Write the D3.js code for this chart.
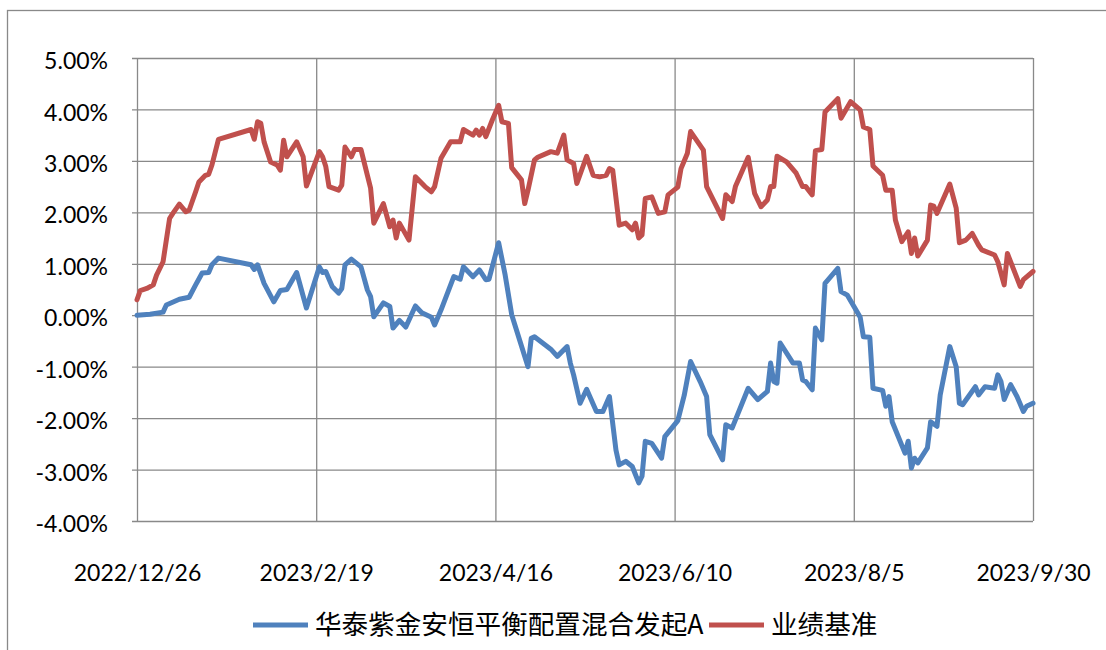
<!DOCTYPE html>
<html>
<head>
<meta charset="utf-8">
<script src="https://cdn.jsdelivr.net/npm/d3@7"></script>
<style>
	body { margin: 0; background: #fff; }
	.axis text { font-family: Lato, "Open Sans", sans-serif; font-size: 23px; fill: #000; }
	.axis .domain { display: none; }
	.axis line { stroke: #898989; stroke-width: 1.3; }
	.legend text { font-family: "Noto Sans CJK SC", sans-serif; font-size: 26.6px; fill: #000; }
</style>
</head>
<body>
<svg class="chart" width="1106" height="650"></svg>
<script>
// 华泰紫金安恒平衡配置混合发起A
var fundDates = ['2022/12/26','2022/12/30','2023/1/3','2023/1/4','2023/1/8','2023/1/11','2023/1/13','2023/1/15','2023/1/17','2023/1/18',
	'2023/1/20','2023/1/30','2023/1/31','2023/2/1','2023/2/3','2023/2/6','2023/2/8','2023/2/10','2023/2/13','2023/2/16',
	'2023/2/20','2023/2/21','2023/2/22','2023/2/24','2023/2/26','2023/2/27','2023/2/28','2023/3/2','2023/3/5','2023/3/7',
	'2023/3/8','2023/3/9','2023/3/12','2023/3/14','2023/3/15','2023/3/17','2023/3/19','2023/3/22','2023/3/24','2023/3/27',
	'2023/3/28','2023/3/30','2023/4/3','2023/4/5','2023/4/6','2023/4/9','2023/4/11','2023/4/13','2023/4/14','2023/4/17',
	'2023/4/19','2023/4/21','2023/4/26','2023/4/27','2023/4/28','2023/5/3','2023/5/5','2023/5/8','2023/5/9','2023/5/10',
	'2023/5/12','2023/5/14','2023/5/17','2023/5/19','2023/5/21','2023/5/23','2023/5/24','2023/5/26','2023/5/28','2023/5/30',
	'2023/5/31','2023/6/1','2023/6/3','2023/6/6','2023/6/7','2023/6/11','2023/6/13','2023/6/15','2023/6/18','2023/6/20',
	'2023/6/21','2023/6/25','2023/6/26','2023/6/28','2023/7/3','2023/7/6','2023/7/9','2023/7/10','2023/7/11','2023/7/12',
	'2023/7/13','2023/7/17','2023/7/19','2023/7/20','2023/7/21','2023/7/23','2023/7/24','2023/7/26','2023/7/27','2023/7/31',
	'2023/8/1','2023/8/3','2023/8/7','2023/8/8','2023/8/10','2023/8/11','2023/8/14','2023/8/15','2023/8/16','2023/8/17',
	'2023/8/21','2023/8/22','2023/8/23','2023/8/24','2023/8/25','2023/8/28','2023/8/29','2023/8/31','2023/9/1','2023/9/4',
	'2023/9/6','2023/9/7','2023/9/8','2023/9/12','2023/9/13','2023/9/15','2023/9/18','2023/9/19','2023/9/20','2023/9/21',
	'2023/9/23','2023/9/25','2023/9/27','2023/9/28','2023/9/30'];
var fundValues = [0.00, 0.02, 0.06, 0.20, 0.31, 0.35, 0.59, 0.82, 0.83, 0.98,
	1.11, 0.98, 0.89, 0.98, 0.62, 0.26, 0.48, 0.50, 0.83, 0.14,
	0.94, 0.83, 0.85, 0.56, 0.43, 0.52, 0.98, 1.09, 0.94, 0.49,
	0.36, -0.03, 0.24, 0.17, -0.25, -0.10, -0.23, 0.18, 0.05, -0.04,
	-0.19, 0.10, 0.75, 0.70, 0.94, 0.75, 0.88, 0.69, 0.70, 1.41,
	0.78, 0.01, -1.00, -0.45, -0.42, -0.66, -0.80, -0.61, -0.93, -1.16,
	-1.71, -1.44, -1.87, -1.87, -1.58, -2.62, -2.91, -2.84, -2.94, -3.26,
	-3.13, -2.45, -2.49, -2.78, -2.36, -2.05, -1.56, -0.90, -1.29, -1.58,
	-2.32, -2.81, -2.13, -2.19, -1.42, -1.64, -1.48, -0.93, -1.29, -1.32,
	-0.54, -0.93, -0.93, -1.26, -1.29, -1.45, -0.25, -0.48, 0.62, 0.91,
	0.46, 0.39, -0.04, -0.42, -0.43, -1.42, -1.46, -1.77, -1.58, -2.07,
	-2.68, -2.45, -2.97, -2.78, -2.87, -2.58, -2.07, -2.16, -1.55, -0.61,
	-1.00, -1.71, -1.74, -1.39, -1.55, -1.39, -1.42, -1.16, -1.29, -1.64,
	-1.35, -1.58, -1.87, -1.77, -1.71];

// 业绩基准
var benchDates = ['2022/12/26','2022/12/27','2022/12/29','2022/12/31','2023/1/1','2023/1/3','2023/1/5','2023/1/6','2023/1/8','2023/1/10',
	'2023/1/11','2023/1/13','2023/1/14','2023/1/16','2023/1/17','2023/1/18','2023/1/20','2023/1/30','2023/1/31','2023/2/1',
	'2023/2/2','2023/2/3','2023/2/5','2023/2/7','2023/2/8','2023/2/9','2023/2/10','2023/2/13','2023/2/15','2023/2/16',
	'2023/2/20','2023/2/21','2023/2/22','2023/2/23','2023/2/26','2023/2/27','2023/2/28','2023/3/2','2023/3/3','2023/3/5',
	'2023/3/7','2023/3/8','2023/3/9','2023/3/12','2023/3/14','2023/3/15','2023/3/16','2023/3/17','2023/3/20','2023/3/22',
	'2023/3/25','2023/3/27','2023/3/28','2023/3/30','2023/4/2','2023/4/5','2023/4/6','2023/4/9','2023/4/10','2023/4/11',
	'2023/4/12','2023/4/13','2023/4/15','2023/4/17','2023/4/18','2023/4/20','2023/4/21','2023/4/24','2023/4/25','2023/4/26',
	'2023/4/28','2023/4/29','2023/5/3','2023/5/5','2023/5/7','2023/5/8','2023/5/10','2023/5/11','2023/5/14','2023/5/16',
	'2023/5/18','2023/5/20','2023/5/21','2023/5/22','2023/5/24','2023/5/26','2023/5/28','2023/5/29','2023/5/30','2023/5/31',
	'2023/6/1','2023/6/3','2023/6/5','2023/6/7','2023/6/8','2023/6/11','2023/6/12','2023/6/14','2023/6/15','2023/6/19',
	'2023/6/20','2023/6/25','2023/6/26','2023/6/28','2023/6/29','2023/7/3','2023/7/5','2023/7/7','2023/7/9','2023/7/10',
	'2023/7/11','2023/7/12','2023/7/15','2023/7/18','2023/7/20','2023/7/21','2023/7/23','2023/7/24','2023/7/26','2023/7/27',
	'2023/7/31','2023/8/1','2023/8/4','2023/8/7','2023/8/8','2023/8/10','2023/8/11','2023/8/14','2023/8/15','2023/8/17',
	'2023/8/18','2023/8/20','2023/8/22','2023/8/23','2023/8/24','2023/8/25','2023/8/28','2023/8/29','2023/8/30','2023/8/31',
	'2023/9/4','2023/9/6','2023/9/7','2023/9/9','2023/9/11','2023/9/13','2023/9/14','2023/9/18','2023/9/19','2023/9/21',
	'2023/9/22','2023/9/24','2023/9/26','2023/9/27','2023/9/30'];
var benchValues = [0.30, 0.48, 0.52, 0.59, 0.78, 1.04, 1.88, 1.98, 2.16, 2.01,
	2.04, 2.40, 2.59, 2.72, 2.74, 2.92, 3.42, 3.61, 3.42, 3.76,
	3.73, 3.37, 2.98, 2.92, 2.82, 3.40, 3.08, 3.37, 3.08, 2.51,
	3.18, 3.08, 2.89, 2.50, 2.43, 2.53, 3.27, 3.08, 3.22, 3.22,
	2.72, 2.47, 1.79, 2.17, 1.72, 1.85, 1.50, 1.79, 1.46, 2.69,
	2.50, 2.40, 2.50, 3.05, 3.37, 3.37, 3.61, 3.50, 3.60, 3.50,
	3.63, 3.47, 3.79, 4.08, 3.76, 3.73, 2.87, 2.63, 2.17, 2.43,
	3.02, 3.07, 3.18, 3.15, 3.50, 3.02, 2.95, 2.56, 3.09, 2.72,
	2.69, 2.72, 2.85, 2.82, 1.75, 1.79, 1.66, 1.79, 1.50, 1.56,
	2.27, 2.30, 1.98, 2.01, 2.34, 2.49, 2.85, 3.15, 3.57, 3.21,
	2.50, 1.88, 2.34, 2.21, 2.50, 3.07, 2.37, 2.11, 2.24, 2.50,
	2.50, 3.09, 2.98, 2.76, 2.50, 2.50, 2.34, 3.20, 3.22, 3.95,
	4.21, 3.83, 4.15, 3.99, 3.66, 3.61, 2.90, 2.72, 2.43, 2.43,
	1.85, 1.43, 1.62, 1.20, 1.50, 1.15, 1.46, 2.14, 2.12, 1.98,
	2.55, 2.08, 1.41, 1.46, 1.59, 1.36, 1.27, 1.17, 1.04, 0.59,
	1.20, 0.88, 0.56, 0.69, 0.85];

var tickLabels = ['2022/12/26', '2023/2/19', '2023/4/16', '2023/6/10', '2023/8/5', '2023/9/30'];
var yTicks = [-4, -3, -2, -1, 0, 1, 2, 3, 4, 5];
var seriesNames = ['华泰紫金安恒平衡配置混合发起A', '业绩基准'];
var colors = ['#4f81bd', '#c0504d'];

var parseDate = d3.timeParse('%Y/%m/%d');
var margin = {top: 58, right: 73, bottom: 129, left: 137};
var w = 1106 - margin.left - margin.right,
    h = 650 - margin.top - margin.bottom;

var svg = d3.select('.chart');

// outer chart frame
svg.append('rect')
	.attr('x', 7.5).attr('y', 10.5)
	.attr('width', 1110).attr('height', 660)
	.attr('fill', 'none').attr('stroke', '#898989').attr('stroke-width', 1.3);

var g = svg.append('g')
	.attr('transform', 'translate(' + margin.left + ',' + margin.top + ')');

var tickDates = tickLabels.map(parseDate);
// labelled dates sit on equally spaced category gridlines
var x = d3.scaleTime()
	.domain(tickDates)
	.range(tickDates.map(function(d, i) { return i * w / (tickDates.length - 1) }));
var y = d3.scaleLinear().domain([-4, 5]).range([h, 0]);

g.append('g')
	.attr('class', 'axis')
	.attr('transform', 'translate(-5,0)')
	.call(d3.axisLeft(y)
		.tickValues(yTicks)
		.tickSize(-(w + 5))
		.tickPadding(24)
		.tickFormat(function(d) { return d.toFixed(2) + '%' }))
  .selectAll('text')
	.attr('dy', '0.46em');

g.append('g')
	.attr('class', 'axis')
	.attr('transform', 'translate(0,' + h + ')')
	.call(d3.axisBottom(x)
		.tickValues(tickDates)
		.tickSize(-h)
		.tickPadding(44)
		.tickFormat(d3.timeFormat('%Y/%-m/%-d')));

var line = d3.line()
	.x(function(d) { return x(d[0]) })
	.y(function(d) { return y(d[1]) });

var series = [
	d3.zip(fundDates.map(parseDate), fundValues),
	d3.zip(benchDates.map(parseDate), benchValues)
];

g.selectAll('.series')
	.data(series)
  .enter().append('path')
	.attr('class', 'series')
	.attr('d', line)
	.attr('fill', 'none')
	.attr('stroke', function(d, i) { return colors[i] })
	.attr('stroke-width', 5)
	.attr('stroke-linejoin', 'round')
	.attr('stroke-linecap', 'round');

// legend
var legendX = [253, 709];
var legend = svg.append('g').attr('class', 'legend')
  .selectAll('g')
	.data(seriesNames)
  .enter().append('g')
	.attr('transform', function(d, i) { return 'translate(' + legendX[i] + ',625)' });

legend.append('line')
	.attr('x1', 0).attr('x2', 55)
	.attr('stroke', function(d, i) { return colors[i] })
	.attr('stroke-width', 5);

legend.append('text')
	.attr('x', 62)
	.attr('dy', '0.34em')
	.text(function(d) { return d });
</script>
</body>
</html>
